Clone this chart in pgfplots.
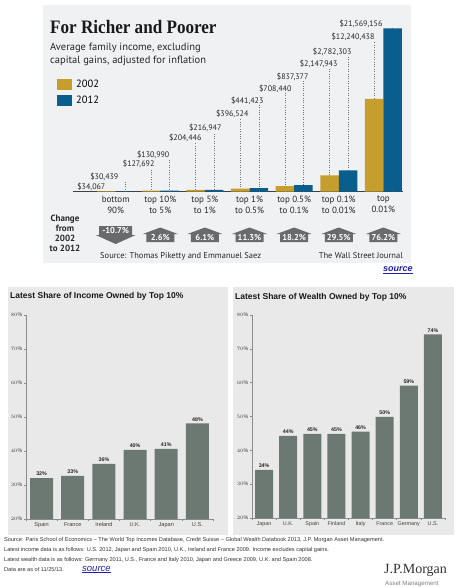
\documentclass[border=0pt]{standalone}
\usepackage{fontspec}
\setmainfont{Liberation Sans}
\newfontfamily\wsj{PT Sans}
\newfontfamily\serif{Liberation Serif}
\usepackage{pgfplots}
\pgfplotsset{compat=1.18}
\usepackage{pgfplotstable}
\definecolor{gold}{RGB}{197,158,46}
\definecolor{wblue}{RGB}{10,94,142}
\definecolor{arrowgray}{RGB}{105,106,108}
\definecolor{bargray}{RGB}{108,121,114}
\definecolor{toppanel}{RGB}{240,241,243}
\definecolor{botpanel}{RGB}{233,233,233}
\definecolor{linkblue}{RGB}{30,30,170}

\pgfdeclareplotmark{house}{%
 \pgfpathmoveto{\pgfpoint{-14pt}{-4.5pt}}%
 \pgfpathlineto{\pgfpoint{14pt}{-4.5pt}}%
 \pgfpathlineto{\pgfpoint{14pt}{3.5pt}}%
 \pgfpathlineto{\pgfpoint{17.5pt}{3.5pt}}%
 \pgfpathlineto{\pgfpoint{0pt}{10pt}}%
 \pgfpathlineto{\pgfpoint{-17.5pt}{3.5pt}}%
 \pgfpathlineto{\pgfpoint{-14pt}{3.5pt}}%
 \pgfpathclose
 \pgfusepathqfill}
\pgfdeclareplotmark{downarrow}{%
 \pgfpathmoveto{\pgfpoint{-16.5pt}{5pt}}%
 \pgfpathlineto{\pgfpoint{16.5pt}{5pt}}%
 \pgfpathlineto{\pgfpoint{16.5pt}{-4pt}}%
 \pgfpathlineto{\pgfpoint{20pt}{-4pt}}%
 \pgfpathlineto{\pgfpoint{0pt}{-13pt}}%
 \pgfpathlineto{\pgfpoint{-20pt}{-4pt}}%
 \pgfpathlineto{\pgfpoint{-16.5pt}{-4pt}}%
 \pgfpathclose
 \pgfusepathqfill}

% average family income; la/lb = height of the value label (layout)
\pgfplotstableread{
i a b la lb ta tb dxa dxb
0 34067 30439 66000 1389000 34,067 30,439 -0.4 -5.9
1 127692 130990 3110000 4301000 127,692 130,990 4 0.5
2 204446 216947 6550000 7873000 204,446 216,947 6.4 7.9
3 396524 441423 9726000 11446000 396,524 441,423 8.8 5.3
4 708440 837377 13034000 14622000 708,440 837,377 7.2 5.7
5 2147943 2782303 16342000 17930000 2,147,943 2,782,303 8.6 4.1
6 12240438 21569156 19915000 21635000 12,240,438 21,569,156 1 -9.5
}\topdata

\pgfplotstableread{
i v t
0 32.0 32
1 32.7 33
2 36.2 36
3 40.3 40
4 40.6 41
5 48.1 48
}\incomedata

\pgfplotstableread{
i v t
0 34.2 34
1 44.3 44
2 44.9 45
3 44.9 45
4 45.5 46
5 49.9 50
6 59.1 59
7 74.3 74
}\wealthdata

\begin{document}
\begin{tikzpicture}
\useasboundingbox (0pt,0pt) rectangle (460pt,-587pt);
\fill[white] (0pt,0pt) rectangle (460pt,-587pt);
\fill[toppanel] (43pt,-5pt) rectangle (411pt,-263pt);
\fill[botpanel] (8pt,-287pt) rectangle (228pt,-535pt);
\fill[botpanel] (233pt,-287pt) rectangle (454pt,-535pt);

% ---- top chart texts
\node[anchor=base west, inner sep=0pt, text=black!90] at (50pt,-33pt)
  {\scalebox{0.9}[1]{\serif\bfseries\fontsize{19}{19}\selectfont For Richer and Poorer}};
\node[anchor=base west, inner sep=0pt, text=black!85,
  font=\wsj\fontsize{10.5}{10.5}\selectfont] at (50pt,-50pt)
  {Average family income, excluding};
\node[anchor=base west, inner sep=0pt, text=black!85,
  font=\wsj\fontsize{10.5}{10.5}\selectfont] at (50pt,-63.5pt)
  {capital gains, adjusted for inflation};
\node[align=center, inner sep=0pt, text=black!85,
  font=\wsj\bfseries\fontsize{9}{9.8}\selectfont] at (65pt,-233.5pt)
  {Change\\from\\2002\\to 2012};
\node[anchor=west, inner sep=0pt, text=black!85, font=\wsj\fontsize{8.5}{8.5}\selectfont]
  at (100pt,-256pt) {Source: Thomas Piketty and Emmanuel Saez};
\node[anchor=east, inner sep=0pt, text=black!85, font=\wsj\fontsize{8.5}{8.5}\selectfont]
  at (403pt,-256pt) {The Wall Street Journal};
\node[anchor=west, inner sep=0pt, text=linkblue, font=\itshape\bfseries\fontsize{9}{9}\selectfont]
  at (383pt,-270pt) {\underline{source}};

\begin{axis}[at={(73pt,-191.5pt)}, anchor=south west, scale only axis,
  width=330pt, height=166.3pt,
  xmin=-0.957, xmax=6.44, ymin=0, ymax=22000000,
  axis x line=bottom, axis y line=none,
  axis line style={-, draw=black!75, line width=1.3pt},
  xtick={0,...,6},
  xticklabels={{bottom\\90\%},{top 10\%\\to 5\%},{top 5\%\\to 1\%},{top 1\%\\to 0.5\%},{top 0.5\%\\to 0.1\%},{top 0.1\%\\to 0.01\%},{top\\0.01\%}},
  major tick length=0pt, ytick=\empty, scaled y ticks=false,
  xticklabel style={align=center, font=\wsj\fontsize{9}{11}\selectfont, text=black!85, inner sep=0pt, yshift=-4pt},
  clip=false,
  legend style={at={(-0.0485,0.6825)}, anchor=north west, draw=none, fill=none,
    inner sep=0pt, font=\wsj\fontsize{10.5}{12}\selectfont, row sep=3pt,
    /tikz/every odd column/.append style={column sep=2pt}},
  legend cell align=left,
]
% dotted leaders with value labels
\addplot[ycomb, dotted, draw=black!55, forget plot, point meta=explicit symbolic,
  visualization depends on={\thisrow{dxa}\as\dx},
  nodes near coords={\$\pgfplotspointmeta},
  every node near coord/.style={anchor=south east, xshift=\dx pt, inner sep=0.5pt,
    font=\wsj\fontsize{8}{8}\selectfont, text=black!85}]
  table[x expr=\thisrow{i}-0.2074, y=la, meta=ta]{\topdata};
\addplot[ycomb, dotted, draw=black!55, forget plot, point meta=explicit symbolic,
  visualization depends on={\thisrow{dxb}\as\dx},
  nodes near coords={\$\pgfplotspointmeta},
  every node near coord/.style={anchor=south east, xshift=\dx pt, inner sep=0.5pt,
    font=\wsj\fontsize{8}{8}\selectfont, text=black!85}]
  table[x expr=\thisrow{i}+0.2074, y=lb, meta=tb]{\topdata};
% bars
\addplot[ybar, bar width=18.5pt, bar shift=-9.25pt, fill=gold, draw=none,
  legend image code/.code={\fill[gold] (0pt,-5pt) rectangle (15pt,5.5pt);}]
  table[x=i, y=a]{\topdata};
\addlegendentry{2002}
\addplot[ybar, bar width=18.5pt, bar shift=9.25pt, fill=wblue, draw=none,
  legend image code/.code={\fill[wblue] (0pt,-5pt) rectangle (15pt,5.5pt);}]
  table[x=i, y=b]{\topdata};
\addlegendentry{2012}
% change 2002 -> 2012
\addplot[only marks, mark=house, color=arrowgray, mark options={fill=arrowgray, draw=none},
  forget plot, point meta=explicit symbolic, nodes near coords,
  every node near coord/.style={anchor=center, text=white, inner sep=0pt,
    font=\wsj\bfseries\fontsize{8.5}{8.5}\selectfont}]
  coordinates {(1,-6085000)[2.6\%] (2,-6085000)[6.1\%] (3,-6085000)[11.3\%]
    (4,-6085000)[18.2\%] (5,-6085000)[29.5\%] (6,-6085000)[76.2\%]};
\addplot[only marks, mark=downarrow, color=arrowgray, mark options={fill=arrowgray, draw=none},
  forget plot, point meta=explicit symbolic, nodes near coords,
  every node near coord/.style={anchor=center, text=white, inner sep=0pt,
    font=\wsj\bfseries\fontsize{8.5}{8.5}\selectfont}]
  coordinates {(0,-5225000)[-10.7\%]};
\end{axis}

% ---- bottom left chart
\node[anchor=west, inner sep=0pt, font=\bfseries\fontsize{8.5}{8.5}\selectfont, text=black!90]
  at (10pt,-296pt) {Latest Share of Income Owned by Top 10\%};
\begin{axis}[at={(26pt,-519pt)}, anchor=south west, scale only axis,
  width=187pt, height=204pt, xmin=-0.5, xmax=5.5, ymin=20, ymax=80,
  axis lines=left, axis line style={-, draw=black!45, line width=0.9pt},
  ytick={20,30,...,80}, yticklabel={\pgfmathprintnumber{\tick}\%},
  xtick={0,...,5}, xticklabels={Spain,France,Ireland,U.K.,Japan,U.S.},
  minor xtick={-0.5,0.5,...,5.5},
  tick align=outside, major tick length=2pt, minor tick length=2pt,
  major x tick style={draw=none},
  tick style={draw=black!45, line width=0.5pt},
  yticklabel style={font=\fontsize{5.3}{5.3}\selectfont, text=black!75, inner sep=1.5pt},
  xticklabel style={font=\fontsize{5.6}{5.6}\selectfont, text=black!75, inner sep=1.5pt},
]
\addplot[ybar, bar width=23pt, fill=bargray, draw=none, point meta=explicit symbolic,
  nodes near coords={\pgfplotspointmeta\%},
  every node near coord/.style={anchor=south, inner sep=2pt,
    font=\bfseries\fontsize{5.3}{5.3}\selectfont, text=black!85}]
  table[x=i, y=v, meta=t]{\incomedata};
\end{axis}

% ---- bottom right chart
\node[anchor=west, inner sep=0pt, font=\bfseries\fontsize{8.5}{8.5}\selectfont, text=black!90]
  at (235pt,-297pt) {Latest Share of Wealth Owned by Top 10\%};
\begin{axis}[at={(252pt,-518pt)}, anchor=south west, scale only axis,
  width=193pt, height=203pt, xmin=-0.5, xmax=7.5, ymin=20, ymax=80,
  axis lines=left, axis line style={-, draw=black!45, line width=0.9pt},
  ytick={20,30,...,80}, yticklabel={\pgfmathprintnumber{\tick}\%},
  xtick={0,...,7}, xticklabels={Japan,U.K.,Spain,Finland,Italy,France,Germany,U.S.},
  minor xtick={-0.5,0.5,...,7.5},
  tick align=outside, major tick length=2pt, minor tick length=2pt,
  major x tick style={draw=none},
  tick style={draw=black!45, line width=0.5pt},
  yticklabel style={font=\fontsize{5.3}{5.3}\selectfont, text=black!75, inner sep=1.5pt},
  xticklabel style={font=\fontsize{5.4}{5.4}\selectfont, text=black!75, inner sep=1.5pt},
]
\addplot[ybar, bar width=18pt, fill=bargray, draw=none, point meta=explicit symbolic,
  nodes near coords={\pgfplotspointmeta\%},
  every node near coord/.style={anchor=south, inner sep=2pt,
    font=\bfseries\fontsize{5.3}{5.3}\selectfont, text=black!85}]
  table[x=i, y=v, meta=t]{\wealthdata};
\end{axis}

% ---- footer
\begin{scope}[every node/.style={anchor=base west, inner sep=0pt, text=black!80, font=\fontsize{5.6}{5.6}\selectfont}]
\node at (4pt,-541pt) {Source: Paris School of Economics -- The World Top Incomes Database, Credit Suisse -- Global Wealth Databook 2013, J.P. Morgan Asset Management.};
\node at (4pt,-551pt) {Latest income data is as follows: U.S. 2012, Japan and Spain 2010, U.K., Ireland and France 2009. Income excludes capital gains.};
\node at (4pt,-561pt) {Latest wealth data is as follows: Germany 2011, U.S., France and Italy 2010, Japan and Greece 2009, U.K. and Spain 2008.};
\node at (4pt,-571pt) {Data are as of 11/25/13.};
\end{scope}
\node[anchor=base west, inner sep=0pt, text=linkblue, font=\itshape\fontsize{9.5}{9.5}\selectfont]
  at (82pt,-571pt) {\underline{source}};
\node[anchor=base west, inner sep=0pt, text=black!80, font=\serif\fontsize{14}{14}\selectfont]
  at (384pt,-573pt) {J.P.Morgan};
\node[anchor=base west, inner sep=0pt, text=black!50, font=\fontsize{6.2}{6.2}\selectfont]
  at (385pt,-585pt) {Asset Management};
\end{tikzpicture}
\end{document}
